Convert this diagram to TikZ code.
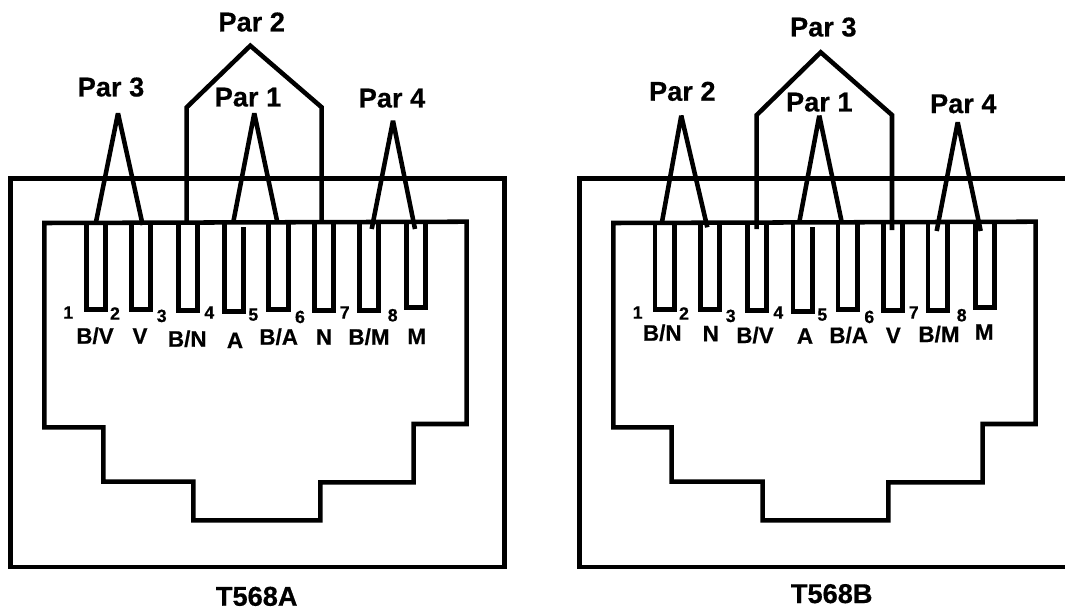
\documentclass[tikz,border=0pt]{standalone}
\usepackage{fontspec}
\setmainfont[BoldFeatures={FakeBold=0.5}]{Liberation Sans}
\tikzset{
  outerbox/.style={draw=black,line width=3.6pt,line join=miter},
  plug/.style={draw=black,line width=3.4pt,line join=miter},
  pinbox/.style={draw=black,line width=3.4pt,line join=miter},
  wire/.style={draw=black,line width=3.4pt,line join=miter},
  big/.style={font=\fontsize{20.4pt}{22pt}\selectfont\bfseries,inner sep=0pt,text height=14.6pt,text depth=0pt},
  wirename/.style={font=\fontsize{16.8pt}{18pt}\selectfont\bfseries,inner sep=0pt,text height=12pt,text depth=0pt},
  pinnum/.style={font=\fontsize{13.3pt}{14pt}\selectfont\bfseries,inner sep=0pt,text height=9.5pt,text depth=0pt}
}
\newcommand{\pinU}[4]{\draw[pinbox] (#1,#4) -- (#1,#3) -- (#2,#3) -- (#2,222);}
\begin{document}
\begin{tikzpicture}[x=0.75pt,y=-0.75pt]
\useasboundingbox (0,0) rectangle (1065,608);
\fill[white] (0,0) rectangle (1065,608);
% ===== T568A =====
\draw[outerbox] (10.3,178.3) rectangle (504.3,567);
\draw[plug] (44.3,223) -- (44.3,427.3) -- (103.3,427.3) -- (103.3,481.7) -- (193.3,481.7) -- (193.3,520.3) -- (320.3,520.3) -- (320.3,482.3) -- (413.7,482.3) -- (413.7,424) -- (466.7,424) -- (466.7,221.7) -- cycle;
\pinU{86.3}{105.7}{309.3}{222}
\pinU{131.7}{150.7}{309.3}{222}
\pinU{178.7}{197.7}{310.7}{222}
\draw[pinbox] (224.3,222) -- (224.3,311.3) -- (243.3,311.3) -- (243.3,226.7);
\pinU{268.7}{288.3}{309.3}{222}
\pinU{314.7}{333.7}{310.7}{222}
\pinU{359.3}{378.3}{310.7}{222}
\pinU{406.3}{425.7}{307.3}{222}
\coordinate (a3) at (118,113.3);
\coordinate (a1) at (254.3,113.3);
\coordinate (a4) at (393,120.7);
\coordinate (a2) at (250.3,45.7);
\coordinate (a3l) at (96,222);
\coordinate (a3r) at (142.7,225);
\coordinate (a1l) at (233.3,222);
\coordinate (a1r) at (277.3,222);
\coordinate (a4l) at (371.7,229);
\coordinate (a4r) at (415,229);
\coordinate (a2l) at (186.7,222);
\coordinate (a2r) at (321.7,222);
\coordinate (a2lk) at (186.7,107.3);
\coordinate (a2rk) at (321.7,107.3);
\begin{scope}[miter limit=1]
\draw[wire] (a3l) -- (a3) -- (a3r);
\draw[wire] (a1l) -- (a1) -- (a1r);
\draw[wire] (a4l) -- (a4) -- (a4r);
\end{scope}
\draw[wire] (a2l) -- (a2lk) -- (a2) -- (a2rk) -- (a2r);
\node[big] (ap2) at (251.7,21.7) {Par 2};
\node[big] (ap3) at (111,86.7) {Par 3};
\node[big] (ap1) at (248,96.7) {Par 1};
\node[big] (ap4) at (392,97.7) {Par 4};
\node[pinnum] (an1) at (68.3,312.3) {1};
\node[pinnum] (an2) at (115,313.3) {2};
\node[pinnum] (an3) at (161.7,315.7) {3};
\node[pinnum] (an4) at (209.3,312.3) {4};
\node[pinnum] (an5) at (253.3,314.3) {5};
\node[pinnum] (an6) at (300,316.7) {6};
\node[pinnum] (an7) at (344.7,312.3) {7};
\node[pinnum] (an8) at (392.7,315) {8};
\node[wirename] (al1) at (95,335.7) {B/V};
\node[wirename] (al2) at (140,335.7) {V};
\node[wirename] (al3) at (187.3,338.7) {B/N};
\node[wirename] (al4) at (235,340) {A};
\node[wirename] (al5) at (278.7,336.7) {B/A};
\node[wirename] (al6) at (324,336.7) {N};
\node[wirename] (al7) at (369,336.7) {B/M};
\node[wirename] (al8) at (416.7,336) {M};
\node[big] (tA) at (256.7,596) {T568A};
% ===== T568B =====
\draw[outerbox] (1075,178.3) -- (579.3,178.3) -- (579.3,567) -- (1075,567);
\draw[plug] (613.3,223) -- (613.3,427.3) -- (671.7,427.3) -- (671.7,481.7) -- (762.7,481.7) -- (762.7,520.3) -- (888.3,520.3) -- (888.3,482.3) -- (982.7,482.3) -- (982.7,424) -- (1035.7,424) -- (1035.7,221.7) -- cycle;
\pinU{655}{674.3}{309.3}{222}
\pinU{700.3}{719.7}{309.3}{222}
\pinU{747.3}{766.7}{310.7}{222}
\draw[pinbox] (793,222) -- (793,311.3) -- (812.3,311.3) -- (812.3,226.7);
\pinU{838}{857.3}{309.3}{222}
\pinU{883.7}{902.7}{310.7}{222}
\pinU{928}{947.7}{310.7}{222}
\pinU{975.3}{994.7}{307.3}{222}
\coordinate (b2) at (681.3,115.7);
\coordinate (b1) at (819.3,115.7);
\coordinate (b4) at (957.7,122.3);
\coordinate (b3) at (820.7,52.3);
\coordinate (b2l) at (662,222);
\coordinate (b2r) at (707.3,227.3);
\coordinate (b1l) at (799.3,222);
\coordinate (b1r) at (841.7,222);
\coordinate (b4l) at (936.7,231);
\coordinate (b4r) at (980.7,231);
\coordinate (b3l) at (756.7,229);
\coordinate (b3r) at (892,230);
\coordinate (b3lk) at (756.7,115);
\coordinate (b3rk) at (892,115);
\begin{scope}[miter limit=1]
\draw[wire] (b2l) -- (b2) -- (b2r);
\draw[wire] (b1l) -- (b1) -- (b1r);
\draw[wire] (b4l) -- (b4) -- (b4r);
\end{scope}
\draw[wire] (b3l) -- (b3lk) -- (b3) -- (b3rk) -- (b3r);
\node[big] (bp3) at (823.3,26.7) {Par 3};
\node[big] (bp2) at (682.3,91) {Par 2};
\node[big] (bp1) at (819.3,101.7) {Par 1};
\node[big] (bp4) at (963.3,103.3) {Par 4};
\node[pinnum] (bn1) at (637.7,312.3) {1};
\node[pinnum] (bn2) at (684,313.3) {2};
\node[pinnum] (bn3) at (730.7,315.7) {3};
\node[pinnum] (bn4) at (778.3,312.3) {4};
\node[pinnum] (bn5) at (822.3,314.3) {5};
\node[pinnum] (bn6) at (869.3,316.7) {6};
\node[pinnum] (bn7) at (913.7,312.3) {7};
\node[pinnum] (bn8) at (961.7,315) {8};
\node[wirename] (bl1) at (662.3,332.7) {B/N};
\node[wirename] (bl2) at (710.7,333.3) {N};
\node[wirename] (bl3) at (755,335) {B/V};
\node[wirename] (bl4) at (805,335.7) {A};
\node[wirename] (bl5) at (848.7,335) {B/A};
\node[wirename] (bl6) at (893.3,335) {V};
\node[wirename] (bl7) at (939,334) {B/M};
\node[wirename] (bl8) at (984.3,331.7) {M};
\node[big] (tB) at (831.7,593.3) {T568B};
\end{tikzpicture}
\end{document}
